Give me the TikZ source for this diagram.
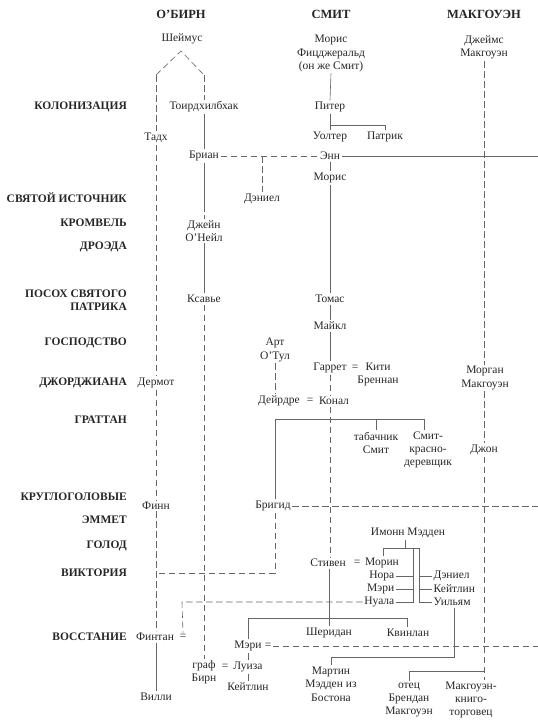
\documentclass[tikz,border=0pt]{standalone}
\usepackage{fontspec}
\setmainfont{Liberation Serif}
\begin{document}
\begin{tikzpicture}[x=1pt,y=-1pt,
  nm/.style={font=\fontsize{11.5}{13.3}\selectfont, align=center, inner sep=1.5pt, text=black!85},
  hd/.style={font=\fontsize{11.5}{13.3}\selectfont\bfseries, text=black!85},
  colhd/.style={font=\fontsize{12.5}{14}\selectfont\bfseries, text=black!85},
  era/.style={hd, anchor=east, align=right, inner sep=0pt},
  ln/.style={draw=black!60, line width=0.6pt},
  dl/.style={ln, dash pattern=on 6.5pt off 3.5pt},
]
\useasboundingbox (0,0) rectangle (538,721);

% headings
\node[colhd] (hob) at (181,14) {О’БИРН};
\node[colhd] (hsm) at (331,14) {СМИТ};
\node[colhd] (hmg) at (484,14) {МАКГОУЭН};

% eras
\node[era] (e1) at (127,107) {КОЛОНИЗАЦИЯ};
\node[era] (e2) at (127,198) {СВЯТОЙ ИСТОЧНИК};
\node[era] (e3) at (127,223) {КРОМВЕЛЬ};
\node[era] (e4) at (127,247) {ДРОЭДА};
\node[era] (e5) at (127,300) {ПОСОХ СВЯТОГО\\ПАТРИКА};
\node[era] (e6) at (127,343) {ГОСПОДСТВО};
\node[era] (e7) at (127,383) {ДЖОРДЖИАНА};
\node[era] (e8) at (127,420) {ГРАТТАН};
\node[era] (e9) at (127,497) {КРУГЛОГОЛОВЫЕ};
\node[era] (e10) at (127,520) {ЭММЕТ};
\node[era] (e11) at (127,546) {ГОЛОД};
\node[era] (e12) at (127,573) {ВИКТОРИЯ};
\node[era] (e13) at (127,637) {ВОССТАНИЕ};

% names
\node[nm] (sheimus) at (182,39) {Шеймус};
\node[nm] (toird) at (204,107) {Тоирдхилбхак};
\node[nm] (tadh) at (156,138) {Тадх};
\node[nm] (brian) at (204,156) {Бриан};
\node[nm] (moris1) at (331,53.5) {Морис\\Фицджеральд\\(он же Смит)};
\node[nm] (james) at (484,47.5) {Джеймс\\Макгоуэн};
\node[nm] (piter) at (330,107) {Питер};
\node[nm] (walter) at (330,137) {Уолтер};
\node[nm] (patrik) at (385,137) {Патрик};
\node[nm] (ann) at (330,156) {Энн};
\node[nm] (moris2) at (330,178) {Морис};
\node[nm] (daniel1) at (262,199) {Дэниел};
\node[nm] (jane) at (204,231) {Джейн\\О’Нейл};
\node[nm] (xavier) at (204,299) {Ксавье};
\node[nm] (tomas) at (330,299) {Томас};
\node[nm] (maikl) at (330,326) {Майкл};
\node[nm] (art) at (275,350) {Арт\\О’Тул};
\node[nm] (garret) at (330,368) {Гаррет};
\node[nm] (eqG) at (355,368) {=};
\node[nm] (kiti) at (378,374.6) {Кити\\Бреннан};
\node[nm] (deirdre) at (279,401) {Дейрдре};
\node[nm] (eqD) at (310,401) {=};
\node[nm] (konal) at (334,401) {Конал};
\node[nm] (morgan) at (485,378) {Морган\\Макгоуэн};
\node[nm] (tabach) at (376,443) {табачник\\Смит};
\node[nm] (smitkr) at (428,450) {Смит-\\красно-\\деревщик};
\node[nm] (dzhon) at (484,450) {Джон};
\node[nm] (dermot) at (156,383) {Дермот};
\node[nm] (finn) at (156,506) {Финн};
\node[nm] (brigid) at (273,506) {Бригид};
\node[nm] (imonn) at (408,533) {Имонн Мэдден};
\node[nm] (stiven) at (328,563) {Стивен};
\node[nm] (eqS) at (357,563) {=};
\node[nm] (morin) at (382,563) {Морин};
\node[nm, anchor=east] (nora) at (396,576) {Нора};
\node[nm, anchor=east] (mary1) at (396,589) {Мэри};
\node[nm, anchor=east] (nuala) at (396,602) {Нуала};
\node[nm, anchor=west] (daniel2) at (432,576) {Дэниел};
\node[nm, anchor=west] (keit1) at (432,589) {Кейтлин};
\node[nm, anchor=west] (william) at (432,602) {Уильям};
\node[nm] (fintan) at (155,637) {Финтан};
\node[nm] (eqF) at (183,637) {=};
\node[nm] (villi) at (156,697) {Вилли};
\node[nm] (sheridan) at (329,633) {Шеридан};
\node[nm] (kvinlan) at (408,633) {Квинлан};
\node[nm] (mary2) at (248,646) {Мэри};
\node[nm] (eqM) at (268,646) {=};
\node[nm] (graf) at (204,672.5) {граф\\Бирн};
\node[nm] (eqL) at (225,667) {=};
\node[nm] (luiza) at (248,667) {Луиза};
\node[nm] (keit2) at (248,687) {Кейтлин};
\node[nm] (martin) at (331,684) {Мартин\\Мэдден из\\Бостона};
\node[nm] (otec) at (409,700) {отец\\Брендан\\Макгоуэн};
\node[nm] (knigo) at (471,700) {Макгоуэн-\\книго-\\торговец};

% coordinates
\coordinate (apex) at (181,51);
\coordinate (sL) at (156,75);
\coordinate (sR) at (204,75);
\coordinate (bj) at (204,205);
\coordinate (dj) at (262,156);
\coordinate (annE) at (538,156);
\coordinate (pj) at (330,125);
\coordinate (c1) at (275,419);
\coordinate (c2) at (424,419);
\coordinate (vk) at (156,573);
\coordinate (brE) at (538,506);
\coordinate (oj) at (484,671);
\coordinate (ij) at (405,548);
\coordinate (iL) at (383,548);
\coordinate (iA) at (413,548);
\coordinate (iB) at (419,548);
\coordinate (fj) at (182,602);
\coordinate (sj1) at (248,618);
\coordinate (sj2) at (407,618);
\coordinate (mE) at (538,646);
\coordinate (wj) at (454,657);

% O'Byrne line
\draw[dl] (sL) -- (apex) -- (sR);
\draw[dl] (sL) -- (tadh.north);
\draw[dl] (sR) -- (toird.north);
\draw[dl] (tadh.south) -- (dermot.north);
\draw[dl] (dermot.south) -- (finn.north);
\draw[dl] (finn.south) -- (finn.south |- fintan.north);
\draw[ln] (finn.south |- fintan.south) -- (villi.north);
\draw[ln] (toird.south) -- (brian.north);
\draw[ln] (brian.south) -- (bj);
\draw[dl] (bj) -- (jane.north);
\draw[ln] (jane.south) -- (xavier.north);
\draw[dl] (xavier.south) -- (graf.north);
\draw[dl] (brian.east) -- (ann.west);
\draw[dl] (dj) -- (daniel1.north);
\draw[ln] (ann.east) -- (annE);

% Smith line
\draw[ln] (moris1.south) -- (piter.north);
\draw[ln] (piter.south) -- (walter.north);
\draw[ln] (pj) -| (patrik.north);
\draw[ln, double=white, double distance=1.2pt, line width=0.4pt] (walter.south) -- (ann.north);
\draw[ln] (ann.south) -- (moris2.north);
\draw[ln] (moris2.south) -- (tomas.north);
\draw[ln] (tomas.south) -- (maikl.north);
\draw[ln] (maikl.south) -- (garret.north);
\draw[dl] (garret.south) -- (garret.south |- konal.north);
\draw[dl] (garret.south |- konal.south) -- (garret.south |- stiven.north);
\draw[dl] (art.south) -- (art.south |- deirdre.north);
\draw[ln] (c1 |- brigid.north) -- (c1) -- (c2) -- (c2 |- smitkr.north);
\draw[ln] (tabach.north |- c1) -- (tabach.north);
\draw[dl] (c1 |- brigid.south) |- (vk);
\draw[dl] (brigid.east) -- (brE);

% McGowan line
\draw[dl] (james.south) -- (james.south |- morgan.north);
\draw[dl] (james.south |- morgan.south) -- (dzhon.north);
\draw[dl] (dzhon.south) -- (dzhon.south |- knigo.north);
\draw[ln] (oj) -| (otec.north);

% Madden family
\draw[ln] (ij |- imonn.south) -- (ij);
\draw[ln] (iL |- morin.north) -- (iL) -- (iB);
\draw[ln] (iA) -- (iA |- nuala.east) -- (nuala.east);
\draw[ln] (iB) -- (iB |- william.west) -- (william.west);
\draw[ln] (nora.east) -- (nora.east -| iA);
\draw[ln] (mary1.east) -- (mary1.east -| iA);
\draw[ln] (daniel2.west) -- (daniel2.west -| iB);
\draw[ln] (keit1.west) -- (keit1.west -| iB);
\draw[dl] (nuala.west) -- (fj) -- (eqF.north);

% Stephen's children
\draw[ln] (stiven.south -| sheridan.north) -- (sheridan.north);
\draw[ln] (sj1 |- mary2.north) -- (sj1) -- (sj2) -- (sj2 |- kvinlan.north);
\draw[dl] (eqM.east) -- (mE);
\draw[ln] (mary2.south) -- (luiza.north);
\draw[ln] (luiza.south) -- (keit2.north);
\draw[ln] (wj |- william.south) -- (wj) -| (martin.north);
\end{tikzpicture}
\end{document}
